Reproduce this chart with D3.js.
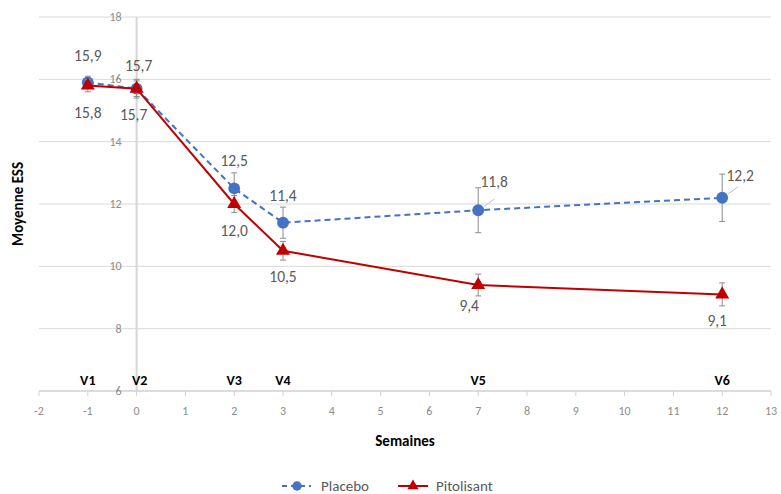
<!DOCTYPE html>
<html lang="fr">
<head>
<meta charset="UTF-8">
<script src="https://d3js.org/d3.v7.min.js"></script>
<title>Moyenne ESS</title>
<style>
  body { margin: 0; background: #fff; }
  svg text { font-family: Carlito, Calibri, "Liberation Sans", sans-serif; }
  .grid line { stroke: #d9d9d9; stroke-width: 1; }
  .tick-lbl { fill: #8c8c8c; font-size: 12px; }
  .dlbl { fill: #595959; font-size: 15.5px; }
  .visit { fill: #000; font-size: 14px; font-weight: bold; }
</style>
</head>
<body>
<svg id="chart" width="781" height="494"></svg>
<script>
// semaines
var weeks = [-1, 0, 2, 3, 7, 12];
var visits = ["V1", "V2", "V3", "V4", "V5", "V6"];
var placebo = [15.9, 15.7, 12.5, 11.4, 11.8, 12.2];
var placeboErr = [0.2, 0.3, 0.5, 0.5, 0.72, 0.76];
var pitolisant = [15.8, 15.7, 12.0, 10.5, 9.4, 9.1];
var pitolisantErr = [0.2, 0.25, 0.27, 0.3, 0.35, 0.37];
var xTicks = d3.range(-2, 14);
var yTicks = [6, 8, 10, 12, 14, 16, 18];

var svg = d3.select("#chart");
var x = d3.scaleLinear().domain([-2, 13]).range([39, 771]);
var y = d3.scaleLinear().domain([6, 18]).range([391, 17]);
var fmt = function(v) { return d3.format(".1f")(v).replace(".", ","); };

// gridlines
svg.append("g").attr("class", "grid")
  .selectAll("line").data(yTicks.slice(1)).enter().append("line")
  .attr("x1", x(-2)).attr("x2", x(13))
  .attr("y1", d => y(d)).attr("y2", d => y(d));

// x axis line at y=6 and vertical axis at x=0
svg.append("line").attr("x1", x(-2)).attr("x2", x(13))
  .attr("y1", y(6)).attr("y2", y(6)).attr("stroke", "#d0d0d0").attr("stroke-width", 1.5);
svg.append("line").attr("x1", x(0)).attr("x2", x(0))
  .attr("y1", y(18)).attr("y2", y(6)).attr("stroke", "#d6d6d6").attr("stroke-width", 2);

svg.append("g").selectAll("line").data(xTicks).enter().append("line")
  .attr("x1", d => x(d)).attr("x2", d => x(d))
  .attr("y1", y(6)).attr("y2", y(6) + 5).attr("stroke", "#d0d0d0");

svg.append("g").selectAll("text").data(xTicks).enter().append("text")
  .attr("class", "tick-lbl").attr("text-anchor", "middle")
  .attr("x", d => x(d)).attr("y", y(6) + 24).text(d => d);

svg.append("g").selectAll("text").data(yTicks).enter().append("text")
  .attr("class", "tick-lbl").attr("text-anchor", "end")
  .attr("x", x(0) - 15).attr("y", d => y(d) + 4).text(d => d);

// titles
svg.append("text").attr("x", 405).attr("y", 446).attr("text-anchor", "middle")
  .style("font-size", "15px").style("font-weight", "bold").text("Semaines");
svg.append("text").attr("transform", "translate(23," + y(12) + ") rotate(-90)")
  .attr("text-anchor", "middle").style("font-size", "15px").style("font-weight", "bold")
  .text("Moyenne ESS");

// visit labels
svg.append("g").selectAll("text").data(visits).enter().append("text")
  .attr("class", "visit").attr("text-anchor", "middle")
  .attr("x", (d, i) => x(weeks[i]) + (i === 1 ? 3 : 0)).attr("y", y(6) - 6).text(d => d);

function series(vals, errs, color, dash, marker) {
  var pts = weeks.map((w, i) => ({ w: w, v: vals[i], e: errs[i] }));
  var g = svg.append("g");
  g.selectAll(".eb").data(pts).enter().append("path")
    .attr("d", d => {
      var cx = x(d.w), t = y(d.v + d.e), b = y(d.v - d.e);
      return "M" + cx + "," + t + "V" + b + "M" + (cx - 3) + "," + t + "H" + (cx + 3) +
        "M" + (cx - 3) + "," + b + "H" + (cx + 3);
    })
    .attr("stroke", "#8c8c8c").attr("fill", "none").attr("stroke-width", 1);
  g.append("path").datum(pts)
    .attr("d", d3.line().x(d => x(d.w)).y(d => y(d.v)))
    .attr("fill", "none").attr("stroke", color).attr("stroke-width", 2)
    .attr("stroke-dasharray", dash);
  g.selectAll(".mk").data(pts).enter().append("path")
    .attr("transform", d => "translate(" + x(d.w) + "," + y(d.v) + ")")
    .attr("d", d3.symbol().type(marker).size(marker === d3.symbolCircle ? 110 : 85))
    .attr("fill", color);
  return pts;
}

series(placebo, placeboErr, "#4472c4", "6,4", d3.symbolCircle);
series(pitolisant, pitolisantErr, "#c00000", null, d3.symbolTriangle);

// data labels (offsets relative to the point)
var placeboOff = [[0, -21], [2, -18], [0, -22], [0, -22], [16, -23], [18, -17]];
var pitoOff = [[0, 32], [-3, 31], [0, 32], [0, 31], [-9, 26], [-5, 32]];
svg.append("g").selectAll("text").data(placebo).enter().append("text")
  .attr("class", "dlbl").attr("text-anchor", "middle")
  .attr("x", (d, i) => x(weeks[i]) + placeboOff[i][0])
  .attr("y", (d, i) => y(d) + placeboOff[i][1]).text(fmt);
svg.append("g").selectAll("text").data(pitolisant).enter().append("text")
  .attr("class", "dlbl").attr("text-anchor", "middle")
  .attr("x", (d, i) => x(weeks[i]) + pitoOff[i][0])
  .attr("y", (d, i) => y(d) + pitoOff[i][1]).text(fmt);

// leader lines for the shifted labels
[4, 5].forEach(function(i) {
  svg.append("line").attr("x1", x(weeks[i]) + 6).attr("y1", y(placebo[i]) - 4)
    .attr("x2", x(weeks[i]) + 16).attr("y2", y(placebo[i]) - 11)
    .attr("stroke", "#bfbfbf");
});

// legend
var lg = svg.append("g").attr("transform", "translate(0,486)");
lg.append("line").attr("x1", 282).attr("x2", 311).attr("stroke", "#4472c4")
  .attr("stroke-width", 2).attr("stroke-dasharray", "5,4");
lg.append("path").attr("transform", "translate(297,0)")
  .attr("d", d3.symbol().type(d3.symbolCircle).size(70)).attr("fill", "#4472c4");
lg.append("text").attr("x", 321).attr("y", 5).style("font-size", "15px").attr("fill", "#595959").text("Placebo");
lg.append("line").attr("x1", 398).attr("x2", 428).attr("stroke", "#c00000").attr("stroke-width", 2);
lg.append("path").attr("transform", "translate(413,0)")
  .attr("d", d3.symbol().type(d3.symbolTriangle).size(55)).attr("fill", "#c00000");
lg.append("text").attr("x", 436).attr("y", 5).style("font-size", "15px").attr("fill", "#595959").text("Pitolisant");
</script>
</body>
</html>
